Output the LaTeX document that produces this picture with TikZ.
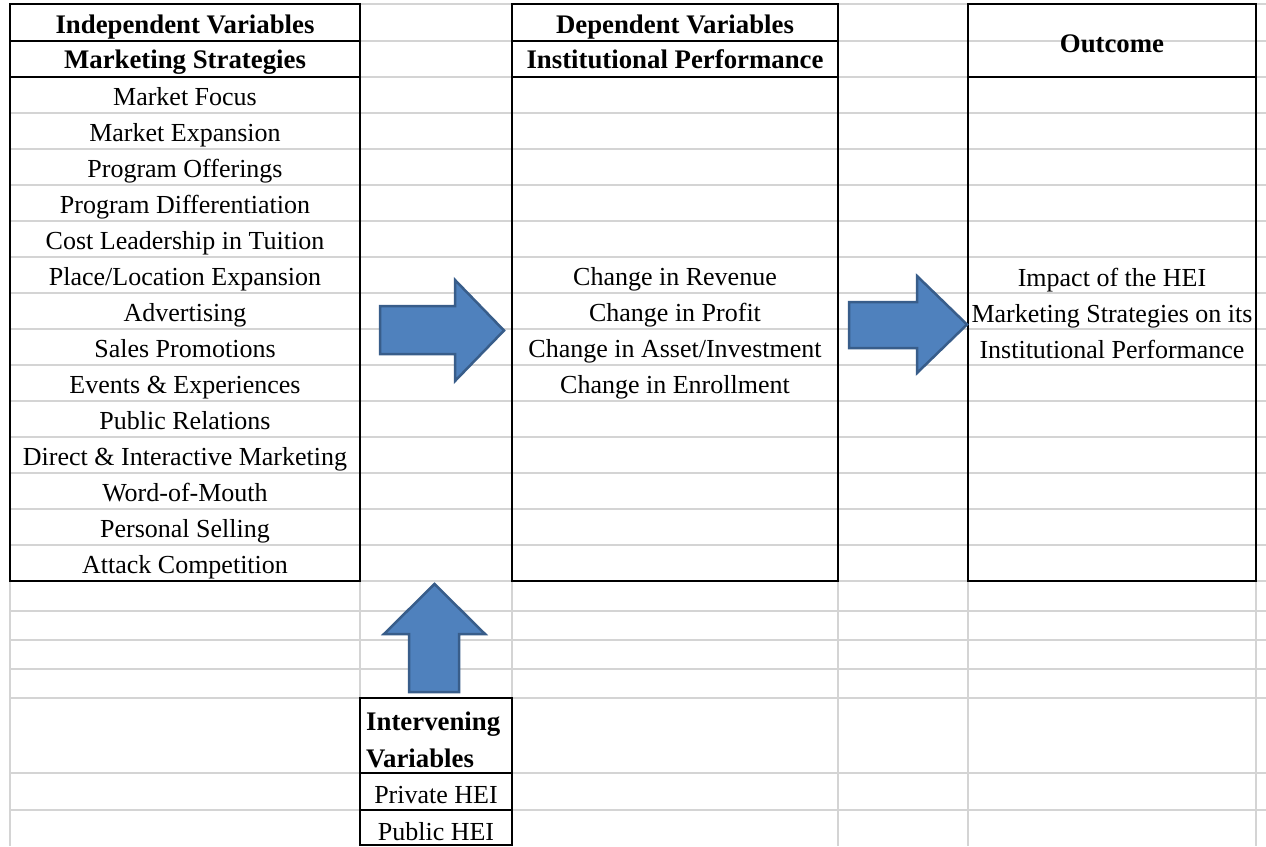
\documentclass[tikz,border=0pt]{standalone}
\usepackage{fontspec}
\setmainfont{Liberation Serif}
\definecolor{gridgray}{HTML}{D4D4D4}
\definecolor{arrowfill}{HTML}{4F81BD}
\definecolor{arrowline}{HTML}{385D8A}
\begin{document}
\begin{tikzpicture}[x=1pt,y=-1pt,
  grid/.style={draw=gridgray,line width=2pt},
  cellbox/.style={draw=black,line width=2.2pt},
  txt/.style={anchor=base,inner sep=0pt,font=\fontsize{26}{30}\selectfont},
  hdr/.style={anchor=base,inner sep=0pt,font=\fontsize{26.8}{30}\selectfont\bfseries},
  blockarrow/.style={fill=arrowfill,draw=arrowline,line width=2.5pt,line join=miter}]
\useasboundingbox[fill=white] (0,0) rectangle (1266,846);
% spreadsheet gridlines
\foreach \y in {4,41,77,113,149,185,221,257,293,329,365,401,437,473,509,545,581,611,640,669,698,773,810}
  \draw[grid] (10,\y) -- (1266,\y);
\foreach \x in {10,360,512,838,968,1256}
  \draw[grid] (\x,4) -- (\x,846);
% bordered blocks
\draw[cellbox] (10,4) rectangle (360,581);
\draw[cellbox] (10,41) -- (360,41);
\draw[cellbox] (10,77) -- (360,77);
\draw[cellbox] (512,4) rectangle (838,581);
\draw[cellbox] (512,41) -- (838,41);
\draw[cellbox] (512,77) -- (838,77);
\draw[cellbox] (968,4) rectangle (1256,581);
\draw[cellbox] (968,77) -- (1256,77);
\draw[cellbox] (360,698) rectangle (512,845);
\draw[cellbox] (360,773) -- (512,773);
\draw[cellbox] (360,810) -- (512,810);
% block arrows
\draw[blockarrow] (380,306) -- (455,306) -- (455,280) -- (504,330.5) -- (455,381) -- (455,354) -- (380,354) -- cycle;
\draw[blockarrow] (849,302) -- (917,302) -- (917,276) -- (967,324.5) -- (917,373) -- (917,348) -- (849,348) -- cycle;
\draw[blockarrow] (409,692) -- (409,634) -- (384,634) -- (434.5,584) -- (485,634) -- (459,634) -- (459,692) -- cycle;
% column A
\node[hdr] (indep) at (185,33) {Independent Variables};
\node[hdr] (mstrat) at (185,68) {Marketing Strategies};
\foreach \t [count=\i from 0] in {Market Focus,Market Expansion,Program Offerings,Program Differentiation,Cost Leadership in Tuition,Place/Location Expansion,Advertising,Sales Promotions,Events \& Experiences,Public Relations,Direct \& Interactive Marketing,Word-of-Mouth,Personal Selling,Attack Competition}
  \node[txt] (a\i) at (185,{105+36*\i}) {\t};
% column C
\node[hdr] (dep) at (675,33) {Dependent Variables};
\node[hdr] (instp) at (675,68) {Institutional Performance};
\node[txt] (c1) at (675,285) {Change in Revenue};
\node[txt] (c2) at (675,321) {Change in Profit};
\node[txt] (c3) at (675,357) {Change in Asset/Investment};
\node[txt] (c4) at (675,393) {Change in Enrollment};
% column E
\node[hdr] (outc) at (1112,52) {Outcome};
\node[txt] (e1) at (1112,286) {Impact of the HEI};
\node[txt] (e2) at (1112,322) {Marketing Strategies on its};
\node[txt] (e3) at (1112,358) {Institutional Performance};
% intervening
\node[hdr,anchor=base west] (iv1) at (366,730) {Intervening};
\node[hdr,anchor=base west] (iv2) at (366,767) {Variables};
\node[txt] (p1) at (436,803) {Private HEI};
\node[txt] (p2) at (436,840) {Public HEI};
\end{tikzpicture}
\end{document}
